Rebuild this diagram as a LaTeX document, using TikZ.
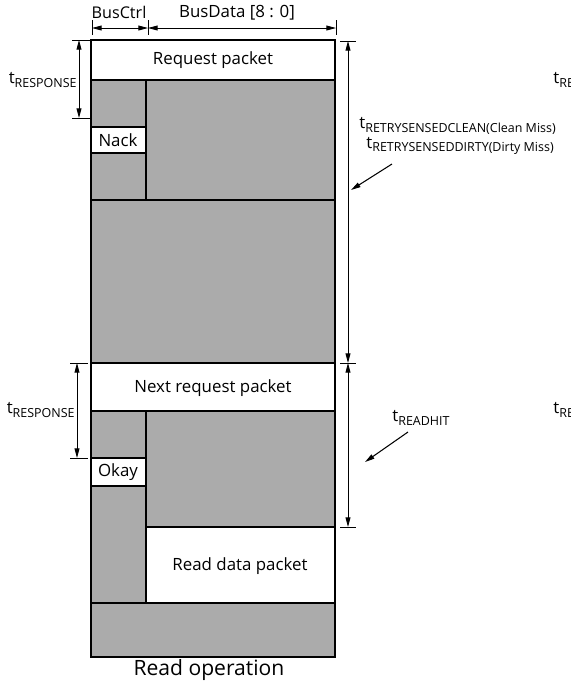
\documentclass[tikz,border=0pt]{standalone}
\usepackage{fontspec}
\setmainfont{Open Sans}
\usetikzlibrary{arrows.meta}
\newcommand{\tlabel}[1]{t\raisebox{-0.4ex}{\fontsize{7.1}{8}\selectfont #1}}

\begin{document}
\begin{tikzpicture}[x=0.02cm, y=-0.02cm,
  >={Triangle[length=5.5pt,width=2.8pt]},
  frame/.style={line width=1.3pt},
  shaded/.style={fill=black!33},
  dim/.style={<->, line width=0.5pt},
  tickline/.style={line width=0.5pt},
  lbl/.style={inner sep=0pt, font=\fontsize{9.6}{11}\selectfont}]
\useasboundingbox (0,0) rectangle (571,681);
% whole frame shaded, white packets on top
\fill[shaded] (91,40) rectangle (335,657);
\fill[white] (91,40) rectangle (335,80);
\fill[white] (91,127) rectangle (146,153);
\fill[white] (91,363) rectangle (335,411);
\fill[white] (91,458) rectangle (146,486);
\fill[white] (146,527) rectangle (335,603);
\draw[frame] (91,40) rectangle (335,657);
\draw[frame] (91,80) -- (335,80);
\draw[frame] (146,80) -- (146,200);
\draw[frame] (91,127) -- (146,127);
\draw[frame] (91,153) -- (146,153);
\draw[frame] (91,200) -- (335,200);
\draw[frame] (91,363) -- (335,363);
\draw[frame] (91,411) -- (335,411);
\draw[frame] (146,411) -- (146,603);
\draw[frame] (91,458) -- (146,458);
\draw[frame] (91,486) -- (146,486);
\draw[frame] (146,527) -- (335,527);
\draw[frame] (91,603) -- (335,603);

% packet texts
\node[lbl] (req) at (213,60) {Request packet};
\node[lbl] (nack) at (118,140) {Nack};
\node[lbl] (next) at (213,388) {Next request packet};
\node[lbl] (okay) at (118,472) {Okay};
\node[lbl] (rdata) at (240,566) {Read data packet};
\node[lbl, font=\fontsize{12}{14}\selectfont] (readop) at (209,670) {Read operation};

% bus widths
\coordinate (ctrlL) at (92,28);
\coordinate (ctrlR) at (148,28);
\coordinate (dataR) at (336,28);
\draw[dim] (ctrlL) -- (ctrlR);
\draw[dim] (ctrlR) -- (dataR);
\foreach \c in {ctrlL,ctrlR,dataR}
  \draw[tickline] (\c) ++(0,-8) -- ++(0,15);
\node[lbl, font=\fontsize{9.2}{11}\selectfont] (busctrl) at (119,12) {BusCtrl};
\node[lbl] (busdata) at (237,13) {BusData [8 : 0]};

% response times
\coordinate (resp1t) at (79,40);
\coordinate (resp1b) at (79,118);
\coordinate (resp2t) at (77,363);
\coordinate (resp2b) at (77,458);
\draw[dim] (resp1t) -- (resp1b);
\draw[dim] (resp2t) -- (resp2b);
\foreach \c in {resp1t,resp1b,resp2t,resp2b}
  \draw[tickline] (\c) ++(-7,0) -- ++(18,0);
\node[lbl, anchor=east] (resp1) at (77,80) {\tlabel{RESPONSE}};
\node[lbl, anchor=east] (resp2) at (75,410) {\tlabel{RESPONSE}};

% retry and read hit times
\coordinate (retryt) at (348,41);
\coordinate (retryb) at (348,363);
\coordinate (hitb) at (348,527);
\draw[dim] (retryt) -- (retryb);
\draw[dim] (retryb) -- (hitb);
\foreach \c in {retryt,retryb,hitb}
  \draw[tickline] (\c) ++(-8,0) -- ++(16,0);
\node[lbl, anchor=west] (clean) at (359,126) {\tlabel{RETRYSENSEDCLEAN(Clean Miss)}};
\node[lbl, anchor=west] (dirty) at (366,146) {\tlabel{RETRYSENSEDDIRTY(Dirty Miss)}};
\node[lbl, anchor=west] (hit) at (392,418) {\tlabel{READHIT}};
\coordinate (retryfrom) at (392,164);
\coordinate (retryto) at (351,190);
\coordinate (hitfrom) at (408,432);
\coordinate (hitto) at (365,462);
\draw[->, line width=0.6pt] (retryfrom) -- (retryto);
\draw[->, line width=0.6pt] (hitfrom) -- (hitto);

% cut off at the right edge
\node[lbl, anchor=west] (cut1) at (553,80) {\tlabel{RE}};
\node[lbl, anchor=west] (cut2) at (553,410) {\tlabel{RE}};
\end{tikzpicture}
\end{document}
